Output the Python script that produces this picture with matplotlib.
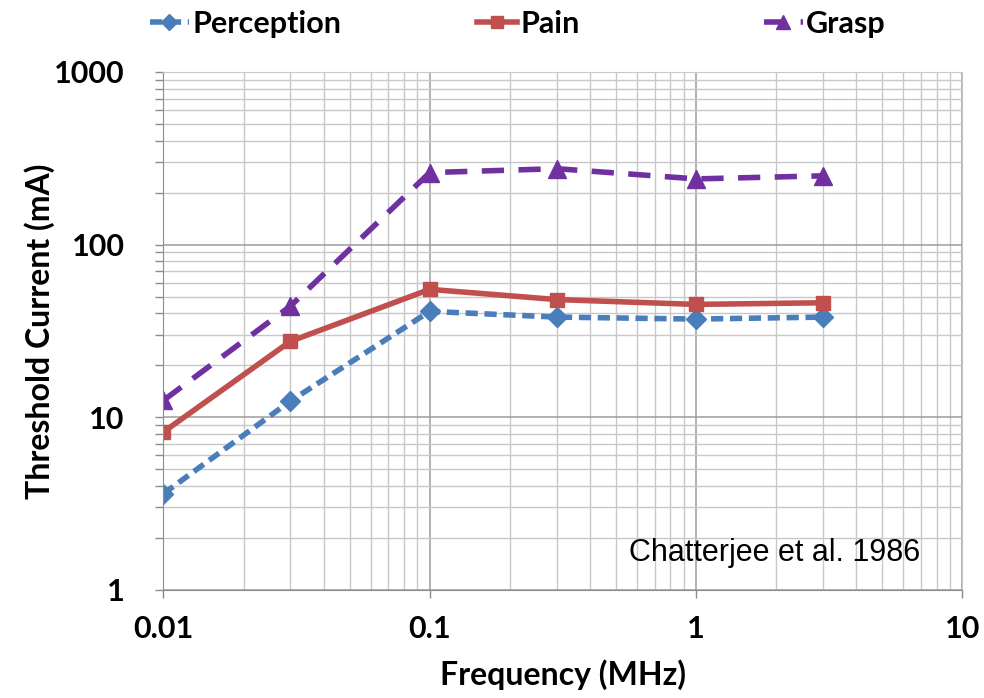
import numpy as np
import matplotlib
matplotlib.use("Agg")
import matplotlib.pyplot as plt
from matplotlib.ticker import LogLocator, FixedLocator, FixedFormatter, NullFormatter

plt.rcParams['font.family'] = ['Lato', 'DejaVu Sans']

# threshold currents (mA) vs frequency (MHz)
freq = [0.01, 0.03, 0.1, 0.3, 1, 3]
perception = [3.6, 12.4, 41, 38, 37, 38]
pain = [8.2, 27.5, 55, 48, 45, 46]
grasp = [12.5, 44, 261, 275, 240, 250]

xticks = [0.01, 0.1, 1, 10]
xticklabels = ['0.01', '0.1', '1', '10']
yticks = [1, 10, 100, 1000]
yticklabels = ['1', '10', '100', '1000']

fig = plt.figure(figsize=(9.84, 6.98), dpi=100)
ax = fig.add_axes([0.166, 0.155, 0.812, 0.742])

l1, = ax.plot(freq, perception, color='#4A7EBB', lw=4, ls=(0, (2.2, 1.2)),
              marker='D', ms=10, label='Perception')
l2, = ax.plot(freq, pain, color='#C0504D', lw=4, ls='-',
              marker='s', ms=10, label='Pain')
l3, = ax.plot(freq, grasp, color='#7030A0', lw=4, ls=(0, (4, 2.6)),
              marker='^', ms=13, label='Grasp')

ax.set_xscale('log')
ax.set_yscale('log')
ax.set_xlim(0.01, 10)
ax.set_ylim(1, 1000)

ax.xaxis.set_major_locator(FixedLocator(xticks))
ax.xaxis.set_major_formatter(FixedFormatter(xticklabels))
ax.yaxis.set_major_locator(FixedLocator(yticks))
ax.yaxis.set_major_formatter(FixedFormatter(yticklabels))
ax.xaxis.set_minor_locator(LogLocator(base=10, subs=np.arange(2, 10), numticks=20))
ax.yaxis.set_minor_locator(LogLocator(base=10, subs=np.arange(2, 10), numticks=20))
ax.xaxis.set_minor_formatter(NullFormatter())
ax.yaxis.set_minor_formatter(NullFormatter())

ax.grid(True, which='major', color='#9c9c9c', lw=1.1)
ax.grid(True, which='minor', color='#c8c8c8', lw=1.0)
ax.set_axisbelow(True)

for s in ['top', 'right']:
    ax.spines[s].set_visible(True)
    ax.spines[s].set_color('#c8c8c8')
for s in ['left', 'bottom']:
    ax.spines[s].set_color('#8c8c8c')

ax.tick_params(which='both', direction='out', color='#8c8c8c', length=6, width=1)
ax.tick_params(axis='x', which='minor', length=0)
ax.tick_params(which='major', labelsize=22)
ax.tick_params(axis='x', which='major', pad=12)
ax.tick_params(axis='y', which='major', pad=22)
for lbl in ax.get_xticklabels() + ax.get_yticklabels():
    lbl.set_fontweight('bold')

ax.set_xlabel('Frequency (MHz)', fontsize=23, fontweight='bold', labelpad=12)
ax.set_ylabel('Threshold Current (mA)', fontsize=23, fontweight='bold')
ax.yaxis.set_label_coords(-0.136, 0.5)

ax.text(0.765, 0.071, 'Chatterjee et al. 1986', transform=ax.transAxes,
        fontsize=22, family='Liberation Sans', ha='center', va='center')

# one legend box per series, spread across the top
for handle, xpos in zip([l1, l2, l3], [0.152, 0.485, 0.776]):
    fig.legend(handles=[handle], loc='upper left', bbox_to_anchor=(xpos, 0.986),
               frameon=False, prop={'size': 22, 'weight': 'bold'},
               handlelength=1.3, handletextpad=0.1, borderpad=0,
               borderaxespad=0, markerscale=0.8)

fig.savefig('out.png', dpi=100)
